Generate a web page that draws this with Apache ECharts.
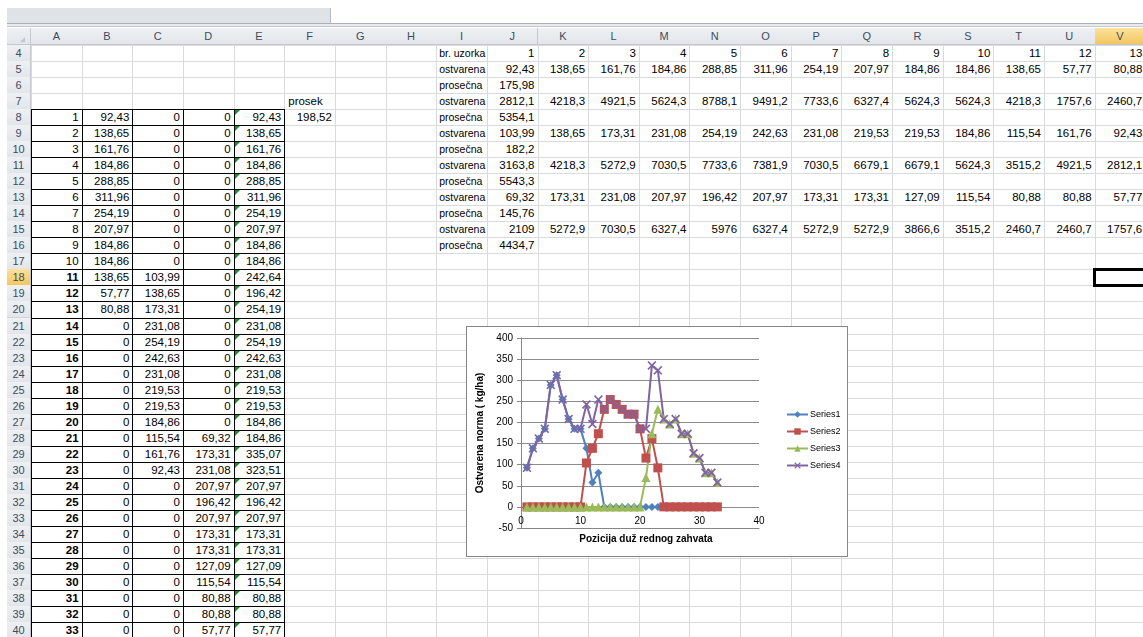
<!DOCTYPE html>
<html><head><meta charset="utf-8">
<script src="https://cdn.jsdelivr.net/npm/echarts@6/dist/echarts.min.js"></script>
<style>
html,body{margin:0;padding:0;background:#fff;width:1143px;height:637px;overflow:hidden;font-family:"Liberation Sans",Arial,sans-serif;}
#sheet{position:absolute;left:0;top:0;width:1143px;height:637px;overflow:hidden;}
.a{position:absolute;box-sizing:border-box;white-space:nowrap;overflow:hidden;}
</style></head><body>
<div id="sheet"></div>
<div id="chartBox" style="position:absolute;left:466px;top:326px;width:382px;height:231px;border:1px solid #868686;box-sizing:border-box;background:#fff;z-index:5;">
<div id="chart" style="position:absolute;left:0;top:0;width:380px;height:229px;"></div></div>
<script>
// ---- chart data (columns A..E of the sheet) ----
const positions = [1,2,3,4,5,6,7,8,9,10,11,12,13,14,15,16,17,18,19,20,21,22,23,24,25,26,27,28,29,30,31,32,33];
const series1 = [92.43,138.65,161.76,184.86,288.85,311.96,254.19,207.97,184.86,184.86,138.65,57.77,80.88,0,0,0,0,0,0,0,0,0,0,0,0,0,0,0,0,0,0,0,0];
const series2 = [0,0,0,0,0,0,0,0,0,0,103.99,138.65,173.31,231.08,254.19,242.63,231.08,219.53,219.53,184.86,115.54,161.76,92.43,0,0,0,0,0,0,0,0,0,0];
const series3 = [0,0,0,0,0,0,0,0,0,0,0,0,0,0,0,0,0,0,0,0,69.32,173.31,231.08,207.97,196.42,207.97,173.31,173.31,127.09,115.54,80.88,80.88,57.77];
const series4 = [92.43,138.65,161.76,184.86,288.85,311.96,254.19,207.97,184.86,184.86,242.64,196.42,254.19,231.08,254.19,242.63,231.08,219.53,219.53,184.86,184.86,335.07,323.51,207.97,196.42,207.97,173.31,173.31,127.09,115.54,80.88,80.88,57.77];
const seriesNames = ['Series1','Series2','Series3','Series4'];
const prosek = 198.52;

// ---- right-hand table (columns I..V) ----
const sampleNo = [1,2,3,4,5,6,7,8,9,10,11,12,13];
const ostvarena1 = [92.43,138.65,161.76,184.86,288.85,311.96,254.19,207.97,184.86,184.86,138.65,57.77,80.88];
const ukupno1 = [2812.1,4218.3,4921.5,5624.3,8788.1,9491.2,7733.6,6327.4,5624.3,5624.3,4218.3,1757.6,2460.7];
const ostvarena2 = [103.99,138.65,173.31,231.08,254.19,242.63,231.08,219.53,219.53,184.86,115.54,161.76,92.43];
const ukupno2 = [3163.8,4218.3,5272.9,7030.5,7733.6,7381.9,7030.5,6679.1,6679.1,5624.3,3515.2,4921.5,2812.1];
const ostvarena3 = [69.32,173.31,231.08,207.97,196.42,207.97,173.31,173.31,127.09,115.54,80.88,80.88,57.77];
const ukupno3 = [2109,5272.9,7030.5,6327.4,5976,6327.4,5272.9,5272.9,3866.6,3515.2,2460.7,2460.7,1757.6];
const prosecna = [175.98,5354.1,182.2,5543.3,145.76,4434.7];
const rowLabels = ['br. uzorka','ostvarena','prosečna','ostvarena','prosečna','ostvarena','prosečna','ostvarena','prosečna','ostvarena','prosečna','ostvarena','prosečna'];
const colNames = ['A','B','C','D','E','F','G','H','I','J','K','L','M','N','O','P','Q','R','S','T','U','V'];

// ---- sheet drawing ----
const sheet = document.getElementById('sheet');
function box(l,t,w,h,style,text){
  const d=document.createElement('div');d.className='a';
  d.style.cssText='left:'+l+'px;top:'+t+'px;width:'+w+'px;height:'+h+'px;'+(style||'');
  if(text!=null)d.textContent=text;sheet.appendChild(d);return d;
}
const X0=31, CW=50.65, Y0=45, RH=16.03, HT=28;
const cx=i=>X0+i*CW, ry=r=>Y0+(r-4)*RH;
const fmt=v=>String(v).replace('.',',');
const HBG='background:linear-gradient(#eef0f3,#e2e6eb);';
const SBG='background:linear-gradient(#fbe29e,#f4c65e);';

// formula bar area
box(7,8,324,16,'background:#dfe2e7;border-right:1px solid #b6bcc4;');
box(7,23,1136,4,'background:#e8eaee;border-top:1px solid #a9b0b9;border-bottom:1px solid #c4c9d0;');

// gridlines
for(let r=4;r<=41;r++) box(X0,ry(r),1143-X0,1,'background:#d9dadb;');
for(let i=0;i<=22;i++) box(cx(i),Y0,1,637-Y0,'background:#d9dadb;');

// column headers
box(7,HT,24,17,HBG+'border-right:1px solid #c5c9cf;border-bottom:1px solid #c5c9cf;');
box(20,HT+9,6,6,'border-bottom:5px solid #c3c7cc;border-left:5px solid transparent;width:0;height:0;');
colNames.forEach((c,i)=>{
  box(cx(i),HT,CW+1,17,(i===21?SBG:HBG)+'border-right:1px solid #c5c9cf;border-bottom:1px solid #c5c9cf;text-align:center;line-height:16px;font-size:11px;color:#3e4c5e;',c);
});
// row headers
for(let r=4;r<=40;r++){
  box(7,ry(r),24,RH+1,(r===18?SBG:HBG)+'border-right:1px solid #c5c9cf;border-bottom:1px solid #d0d3d8;text-align:center;line-height:'+(RH)+'px;font-size:11px;color:#3e4c5e;',String(r));
}

function cell(i,r,text,align,extra){
  box(cx(i)+1,ry(r)+1,CW-1,RH-1,'padding:0 3px;line-height:'+(RH-1)+'px;font-size:11.5px;color:#000;text-align:'+(align||'right')+';'+(extra||''),text);
}

// left table A8:E40
for(let k=0;k<positions.length;k++){
  const r=8+k;
  cell(0,r,String(positions[k]),'right',r>=18?'font-weight:bold;':'');
  cell(1,r,fmt(series1[k]));
  cell(2,r,fmt(series2[k]));
  cell(3,r,fmt(series3[k]));
  cell(4,r,fmt(series4[k]));
}
for(let r=8;r<=41;r++) box(cx(0),ry(r),cx(5)-cx(0)+1,1,'background:#000;');
for(let i=0;i<=5;i++) box(cx(i),ry(8),1,ry(41)-ry(8)+1,'background:#000;');
for(let r=8;r<=40;r++) box(cx(4)+1,ry(r)+1,0,0,'border-top:5px solid #1f8f2a;border-right:5px solid transparent;overflow:visible;');
cell(5,7,'prosek','left');
cell(5,8,fmt(prosek));

// right table
rowLabels.forEach((t,k)=>cell(8,4+k,t,'left','padding:0 0 0 2px;font-size:10.5px;'));
const rightRows=[sampleNo,ostvarena1,null,ukupno1,null,ostvarena2,null,ukupno2,null,ostvarena3,null,ukupno3,null];
rightRows.forEach((arr,k)=>{ if(arr) arr.forEach((v,j)=>cell(9+j,4+k,fmt(v))); });
prosecna.forEach((v,k)=>cell(9,6+2*k,fmt(v)));

// selected cell V18
box(cx(21)-2,ry(18)-1.5,60,RH+3,'border:3px solid #000;');

// ---- chart ----
const chart = echarts.init(document.getElementById('chart'), null, {renderer:'canvas'});
const xPath = 'path://M0,1.3 L1.3,0 L5,3.7 L8.7,0 L10,1.3 L6.3,5 L10,8.7 L8.7,10 L5,6.3 L1.3,10 L0,8.7 L3.7,5 Z';
const colors = ['#4F81BD','#C0504D','#9BBB59','#8064A2'];
const symbols = ['diamond','rect','triangle',xPath];
const sizes = [8,9,9,9];
const allVals = [series1,series2,series3,series4];
chart.setOption({
  animation:false,
  backgroundColor:'#fff',
  textStyle:{fontFamily:'Liberation Sans, Arial, sans-serif'},
  grid:{left:54,top:11,width:238,height:190},
  legend:{
    orient:'vertical',left:314,top:78,itemWidth:21,itemHeight:8,itemGap:8,
    textStyle:{fontSize:9,color:'#000',padding:[0,0,0,-3]},
    data:seriesNames
  },
  xAxis:{
    type:'value',min:0,max:40,interval:10,
    name:'Pozicija duž rednog zahvata',nameLocation:'middle',nameGap:4,
    nameTextStyle:{fontSize:10,fontWeight:'bold',color:'#000',verticalAlign:'top',padding:[0,0,0,12]},
    axisLine:{onZero:false,lineStyle:{color:'#868686'}},
    axisTick:{show:false},
    axisLabel:{margin:-12,fontSize:10,color:'#000'},
    splitLine:{show:false}
  },
  yAxis:{
    type:'value',min:-50,max:400,interval:50,
    name:'Ostvarena norma ( kg/ha)',nameLocation:'middle',nameGap:27,
    nameTextStyle:{fontSize:10,fontWeight:'bold',color:'#000'},
    axisLine:{show:true,lineStyle:{color:'#868686'}},
    axisTick:{show:true,length:4,lineStyle:{color:'#868686'}},
    axisLabel:{margin:8,fontSize:10,color:'#000'},
    splitLine:{lineStyle:{color:'#8c8c8c'}}
  },
  series:seriesNames.map((n,s)=>({
    name:n,type:'line',
    data:positions.map((p,i)=>[p,allVals[s][i]]),
    symbol:symbols[s],symbolSize:sizes[s],
    itemStyle:{color:colors[s]},
    lineStyle:{color:colors[s],width:2},
    emphasis:{disabled:true}
  }))
});
</script>
</body></html>
